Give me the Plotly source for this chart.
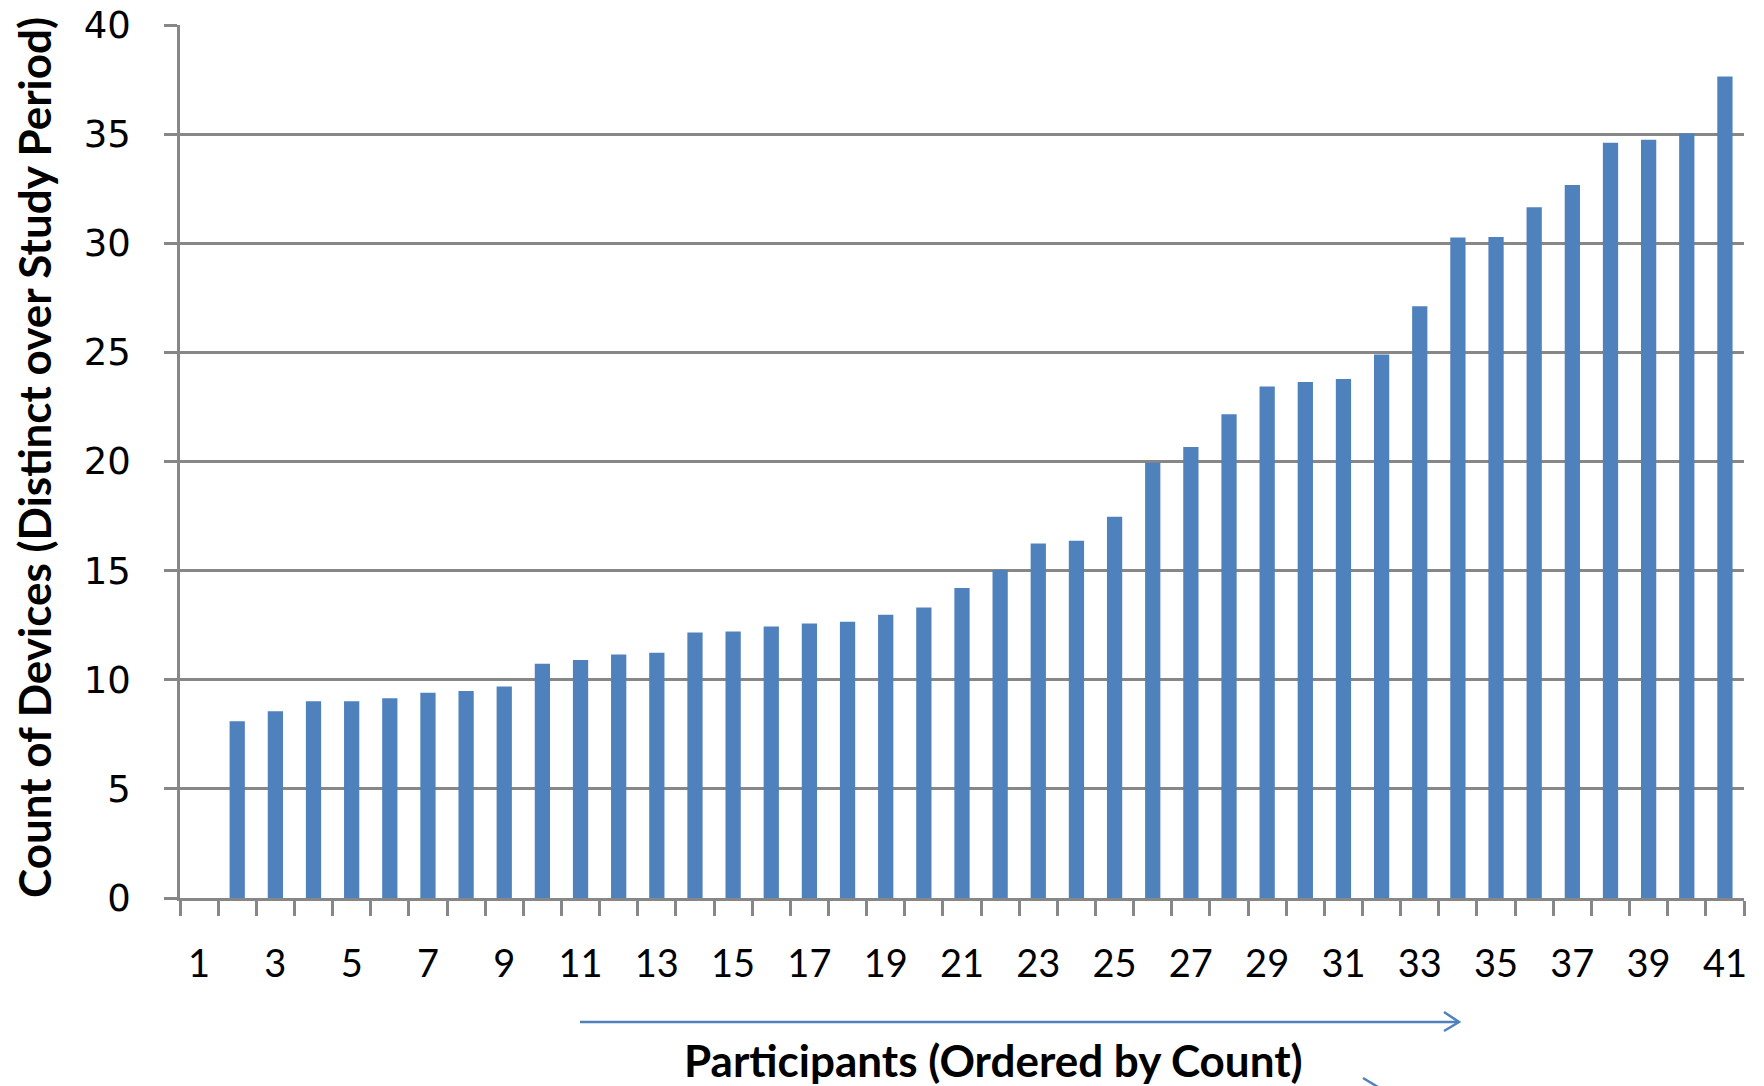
import plotly.graph_objects as go

participants = list(range(1, 42))
device_counts = [None, 8.10, 8.56, 9.02, 9.02, 9.15, 9.40, 9.48, 9.69, 10.73,
                 10.90, 11.16, 11.24, 12.17, 12.21, 12.44, 12.58, 12.66, 12.98, 13.31,
                 14.20, 15.03, 16.24, 16.37, 17.47, 19.94, 20.66, 22.16, 23.44, 23.64,
                 23.78, 24.90, 27.11, 30.26, 30.29, 31.65, 32.67, 34.60, 34.74, 35.03,
                 37.64]
x_tick_labels = [str(v) for v in range(1, 42, 2)]
y_tick_values = list(range(0, 41, 5))

W, H = 1764, 1086
L, R, T, B = 180, 20, 25, 188
PW, PH = W - L - R, H - T - B
GREY = "#878787"
BLUE = "#4F81BD"


def px(x):
    return (x - L) / PW


def py(y):
    return (H - B - y) / PH


fig = go.Figure(
    go.Bar(
        x=participants,
        y=device_counts,
        width=0.4,
        marker=dict(color=BLUE, line=dict(width=0)),
        hoverinfo="x+y",
    )
)

fig.update_layout(
    width=W,
    height=H,
    margin=dict(l=L, r=R, t=T, b=B, autoexpand=False),
    paper_bgcolor="white",
    plot_bgcolor="white",
    showlegend=False,
    xaxis=dict(
        range=[0.5, 41.5],
        automargin=False,
        tickmode="array",
        tickvals=list(range(1, 42, 2)),
        ticktext=x_tick_labels,
        ticks="outside",
        ticklen=15,
        tickwidth=2.5,
        tickcolor="rgba(0,0,0,0)",
        ticklabelstandoff=16,
        tickfont=dict(family="Lato, Liberation Sans, sans-serif", size=38, color="black"),
        showgrid=False,
        showline=True,
        linecolor=GREY,
        linewidth=2.5,
        zeroline=False,
        minor=dict(tick0=0.5, dtick=1, ticks="outside", ticklen=15, tickwidth=2.5,
                   tickcolor=GREY, showgrid=False),
        fixedrange=True,
    ),
    yaxis=dict(
        range=[0, 40],
        automargin=False,
        tickmode="array",
        tickvals=y_tick_values,
        ticktext=[str(v) for v in y_tick_values],
        ticks="outside",
        ticklen=13,
        tickwidth=2.5,
        tickcolor=GREY,
        ticklabelstandoff=26,
        tickfont=dict(family="DejaVu Sans, sans-serif", size=37, color="black"),
        showgrid=True,
        gridcolor=GREY,
        gridwidth=2.5,
        showline=True,
        linecolor=GREY,
        linewidth=2.5,
        zeroline=False,
        fixedrange=True,
    ),
    annotations=[
        dict(
            text="<b>Participants (Ordered by Count)</b>",
            x=px(993), y=py(1060), xref="paper", yref="paper",
            xanchor="center", yanchor="middle", showarrow=False,
            font=dict(family="Lato, sans-serif", size=44, color="black"),
        ),
        dict(
            text="<b>Count of Devices (Distinct over Study Period)</b>",
            x=px(34), y=py(458), xref="paper", yref="paper",
            xanchor="center", yanchor="middle", showarrow=False, textangle=-90,
            font=dict(family="Lato, sans-serif", size=44, color="black"),
        ),
    ],
    shapes=[
        dict(type="line", xref="paper", yref="paper",
             x0=px(580), y0=py(1022), x1=px(1459), y1=py(1022),
             line=dict(color=BLUE, width=2.5)),
        dict(type="path", xref="paper", yref="paper",
             path=f"M {px(1444)} {py(1012)} L {px(1459)} {py(1022)} L {px(1444)} {py(1031)}",
             line=dict(color=BLUE, width=2.5)),
        dict(type="line", xref="paper", yref="paper",
             x0=px(1363), y0=py(1078), x1=px(1378), y1=py(1087),
             line=dict(color=BLUE, width=2.5)),
    ],
)

fig.write_html(
    "out.html",
    config={"displayModeBar": False},
    post_script="document.body.style.margin='0';document.body.style.overflow='hidden';",
)
